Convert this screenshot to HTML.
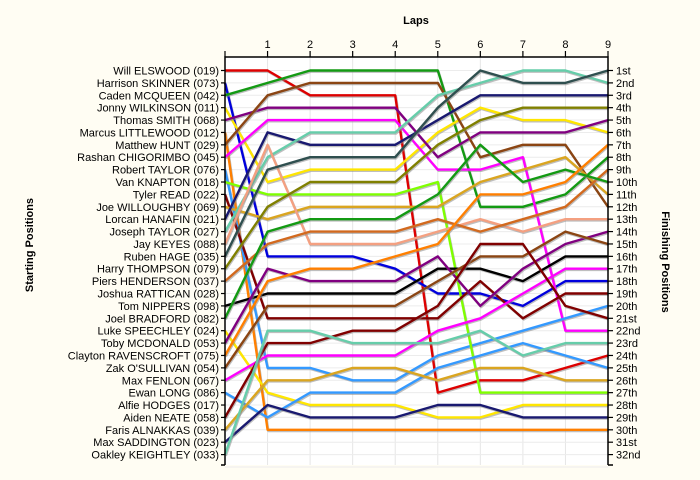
<!DOCTYPE html>
<html><head><meta charset="utf-8"><style>
body{margin:0;background:#fffdf3;}
svg{display:block;font-family:"Liberation Sans",Arial,sans-serif;}
</style></head><body>
<svg id="chart" width="700" height="480" viewBox="0 0 700 480" xmlns="http://www.w3.org/2000/svg">
<rect x="0" y="0" width="700" height="480" fill="#fffdf3"/>
<rect x="225" y="57" width="383" height="408" fill="#ffffff"/>
<g id="grid"></g>
<g id="series"></g>
<g id="axes"></g>
<text x="416" y="24" font-size="11" font-weight="bold" text-anchor="middle">Laps</text>
<text x="0" y="0" font-size="11" font-weight="bold" text-anchor="middle" transform="translate(33,245) rotate(-90)">Starting Positions</text>
<text x="0" y="0" font-size="11" font-weight="bold" text-anchor="middle" transform="translate(662,262) rotate(90)">Finishing Positions</text>
</svg>
<script>
const laps = [0,1,2,3,4,5,6,7,8,9];
const drivers = ["Will ELSWOOD (019)","Harrison SKINNER (073)","Caden MCQUEEN (042)","Jonny WILKINSON (011)","Thomas SMITH (068)","Marcus LITTLEWOOD (012)","Matthew HUNT (029)","Rashan CHIGORIMBO (045)","Robert TAYLOR (076)","Van KNAPTON (018)","Tyler READ (022)","Joe WILLOUGHBY (069)","Lorcan HANAFIN (021)","Joseph TAYLOR (027)","Jay KEYES (088)","Ruben HAGE (035)","Harry THOMPSON (079)","Piers HENDERSON (037)","Joshua RATTICAN (028)","Tom NIPPERS (098)","Joel BRADFORD (082)","Luke SPEECHLEY (024)","Toby MCDONALD (053)","Clayton RAVENSCROFT (075)","Zak O'SULLIVAN (054)","Max FENLON (067)","Ewan LONG (086)","Alfie HODGES (017)","Aiden NEATE (058)","Faris ALNAKKAS (039)","Max SADDINGTON (023)","Oakley KEIGHTLEY (033)"];
const finishLabels = ["1st","2nd","3rd","4th","5th","6th","7th","8th","9th","10th","11th","12th","13th","14th","15th","16th","17th","18th","19th","20th","21st","22nd","23rd","24th","25th","26th","27th","28th","29th","30th","31st","32nd"];
const colors = ["#dd0000","#0000dd","#139a13","#ffe600","#800080","#ff7f00","#8b4513","#ff00ff","#3399ff","#7fff00","#800000","#daa520","#191970","#66cdaa","#f4a081","#2f4f4f","#808000","#d2691e",null,"#000000","#139a13","#ffe600","#800080","#ff7f00","#8b4513","#ff00ff","#3399ff",null,"#800000","#daa520","#191970","#66cdaa"];
const positions = [
[1,1,3,3,3,27,26,26,25,24],
[2,16,16,16,17,19,19,20,18,18],
[3,2,1,1,1,1,12,12,11,8],
[4,10,9,9,9,6,4,5,5,6],
[5,4,4,4,4,8,6,6,6,5],
[6,30,30,30,30,30,30,30,30,30],
[7,3,2,2,2,2,8,7,7,12],
[8,5,5,5,5,9,9,8,22,22],
[9,25,25,26,26,24,23,22,21,20],
[10,11,11,11,11,10,27,27,27,27],
[11,21,21,21,21,21,18,21,19,19],
[12,13,12,12,12,12,10,9,8,11],
[13,6,7,7,7,5,3,3,3,3],
[14,8,6,6,6,3,2,1,1,2],
[15,7,15,15,15,14,13,14,13,13],
[16,9,8,8,8,4,1,2,2,1],
[17,12,10,10,10,7,5,4,4,4],
[18,15,14,14,14,13,14,13,12,9],
null,
[20,19,19,19,19,17,17,18,16,16],
[21,14,13,13,13,11,7,10,9,10],
[22,27,28,28,28,29,29,28,28,28],
[23,17,18,18,18,16,20,17,15,14],
[24,18,17,17,16,15,11,11,10,7],
[25,20,20,20,20,18,16,16,14,15],
[26,24,24,24,24,22,21,19,17,17],
[27,29,27,27,27,25,24,23,24,25],
null,
[29,23,23,22,22,20,15,15,20,21],
[30,26,26,25,25,26,25,25,26,26],
[31,28,29,29,29,28,28,29,29,29],
[32,22,22,23,23,23,22,24,23,23]
];
const NS="http://www.w3.org/2000/svg";
const X0=225, X1=608, Y0=70.5, DY=12.39;
function xs(l){return X0+(X1-X0)*l/9;}
function ys(p){return Y0+(p-1)*DY;}
function mk(tag,attrs,parent){const e=document.createElementNS(NS,tag);for(const k in attrs)e.setAttribute(k,attrs[k]);parent.appendChild(e);return e;}
const grid=document.getElementById('grid'),series=document.getElementById('series'),axes=document.getElementById('axes');
laps.forEach(l=>{if(l>0){const g=mk('line',{x1:xs(l),y1:57,x2:xs(l),y2:465,stroke:'#e6e6e6','stroke-width':1},grid);

}});
for(let p=1;p<=33;p++){const g=mk('line',{x1:X0,y1:ys(p),x2:X1,y2:ys(p),stroke:'#ececec','stroke-width':1},grid);

}
positions.forEach((arr,i)=>{if(!arr)return;
const pts=arr.map((p,l)=>xs(laps[l]).toFixed(1)+','+ys(p).toFixed(1)).join(' ');
const sh=mk('polyline',{points:arr.map((p,l)=>(xs(laps[l])+0.8).toFixed(1)+','+(ys(p)+1.2).toFixed(1)).join(' '),fill:'none',stroke:'#888','stroke-opacity':0.55,'stroke-width':2.4,'stroke-linejoin':'round'},series);


const pl=mk('polyline',{points:pts,fill:'none',stroke:colors[i],'stroke-width':2.4,'stroke-linejoin':'round'},series);


});
const ax=mk('path',{d:`M${X0},465V57H${X1}V465 M${X0-4},465H${X0} M${X1},465H${X1+5}`,fill:'none',stroke:'#000','stroke-width':1.5},axes);


laps.forEach(l=>{const t=mk('line',{x1:xs(l),y1:51,x2:xs(l),y2:57,stroke:'#000','stroke-width':1.2},axes);


if(l>0){const tx=mk('text',{x:xs(l),y:48,'font-size':11,'text-anchor':'middle'},axes);tx.textContent=l;

}});
drivers.forEach((d,i)=>{const y=ys(i+1);
const t=mk('line',{x1:X0-4,y1:y,x2:X0,y2:y,stroke:'#000','stroke-width':1.2},axes);


const tx=mk('text',{x:X0-6,y:y+4,'font-size':11,'text-anchor':'end'},axes);tx.textContent=d;

});
finishLabels.forEach((f,i)=>{const y=ys(i+1);
const t=mk('line',{x1:X1,y1:y,x2:X1+5,y2:y,stroke:'#000','stroke-width':1.2},axes);


const tx=mk('text',{x:X1+8,y:y+4,'font-size':11},axes);tx.textContent=f;

});
</script>
</body></html>
